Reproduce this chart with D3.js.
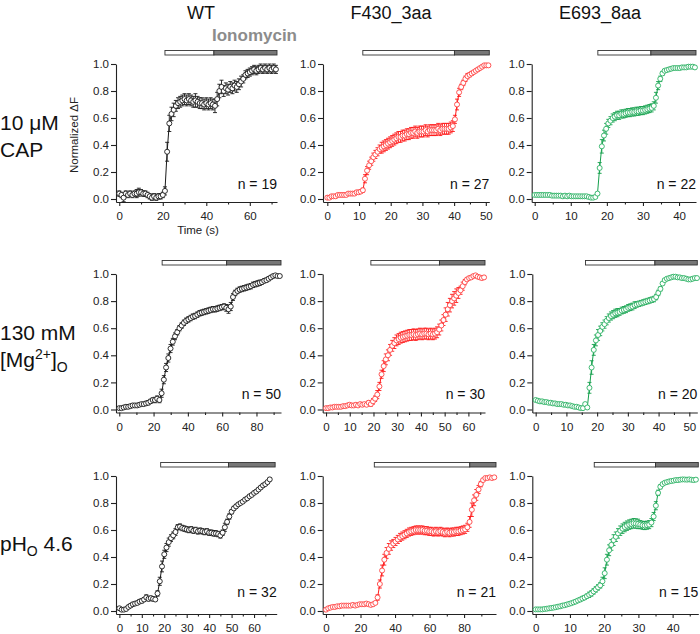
<!DOCTYPE html>
<html>
<head>
<meta charset="utf-8">
<script src="https://cdn.jsdelivr.net/npm/d3@7"></script>
<style>
  body { margin: 0; background: #fff; }
  svg text { font-family: "Liberation Sans", Arial, sans-serif; }
</style>
</head>
<body>
<svg id="chart" width="700" height="634"></svg>
<script>
// column / row headings
const columns = ['WT', 'F430_3aa', 'E693_8aa'];
const cellN = [19, 27, 22, 50, 30, 20, 32, 21, 15];
// sampling interval (s) of each trace
const sampleStep = [1, 0.66, 0.6, 1.3, 0.9, 0.7, 1, 1.3, 0.65];
// agonist bar: start, switch to ionomycin, end (s)
const ionoBars = [
  [21, 43.5, 72.5], [11.2, 40.1, 51.1], [17.5, 32.2, 44.7],
  [25, 62.6, 94.3], [18.9, 47.8, 67], [16.2, 38.8, 52.6],
  [18.4, 48.6, 69.4], [28, 83.3, 98.5], [17.1, 35, 47.5]
];
const xMajor = [
  [0, 20, 40, 60], [0, 10, 20, 30, 40, 50], [0, 10, 20, 30, 40],
  [0, 20, 40, 60, 80], [0, 10, 20, 30, 40, 50, 60], [0, 10, 20, 30, 40, 50],
  [0, 10, 20, 30, 40, 50, 60], [0, 20, 40, 60, 80], [0, 10, 20, 30, 40]
];
const xMinor = [
  [10, 30, 50, 70], [5, 15, 25, 35, 45], [5, 15, 25, 35],
  [10, 30, 50, 70, 90], [5, 15, 25, 35, 45, 55, 65], [5, 15, 25, 35, 45],
  [5, 15, 25, 35, 45, 55, 65], [10, 30, 50, 70, 90], [5, 15, 25, 35, 45]
];
const yTicks = [0, 0.2, 0.4, 0.6, 0.8, 1.0];

// ----- normalized dF means and SEM -----
// row 1: 10 uM CAP
const wtCap = [0.04,0.03,0.01,0.04,0.03,0.04,0.03,0.04,0.04,0.05,0.05,0.04,0.04,0.03,0.02,0.01,0.02,0.01,0.02,0.02,0.03,0.06,
  0.35,0.56,0.63,0.66,0.69,0.71,0.72,0.73,0.74,0.73,
  0.74,0.73,0.72,0.73,0.72,0.71,0.71,0.70,0.71,0.70,
  0.71,0.70,0.69,0.74,0.80,0.83,0.80,0.82,0.81,0.83,
  0.82,0.84,0.83,0.85,0.87,0.89,0.92,0.93,0.94,0.95,
  0.96,0.95,0.96,0.97,0.96,0.97,0.96,0.97,0.96,0.97,0.96];
const wtCapErr = [0.02,0.02,0.03,0.02,0.02,0.02,0.02,0.02,0.03,0.03,0.02,0.02,0.02,0.02,0.02,0.02,0.02,0.02,0.02,0.02,0.02,0.03,
  0.07,0.06,0.05,0.05,0.04,0.04,0.04,0.04,0.04,0.04,
  0.04,0.04,0.04,0.05,0.04,0.04,0.04,0.04,0.04,0.04,
  0.04,0.04,0.05,0.05,0.05,0.05,0.04,0.04,0.04,0.04,
  0.04,0.04,0.04,0.04,0.04,0.03,0.03,0.03,0.03,0.03,
  0.03,0.03,0.03,0.03,0.03,0.03,0.03,0.03,0.03,0.03,0.03];
const f430Cap = [0.01,0.01,0.02,0.02,0.02,0.03,0.03,0.03,0.03,0.03,0.04,0.04,0.04,0.04,0.05,0.05,0.055,0.065,
  0.15,0.21,0.25,0.28,0.31,0.33,0.35,0.37,0.38,0.39,0.40,0.41,0.42,0.43,0.44,0.45,0.46,0.46,0.47,0.47,0.48,0.48,0.49,0.49,
  0.50,0.49,0.50,0.50,0.50,0.51,0.50,0.51,0.51,0.51,0.51,0.52,0.51,0.52,0.52,0.52,0.52,0.53,0.54,
  0.59,0.70,0.79,0.83,0.86,0.89,0.91,0.92,0.93,0.94,0.95,0.96,0.97,0.98,0.99,0.99,0.99];
const f430CapErr = [0.01,0.01,0.01,0.01,0.01,0.01,0.01,0.01,0.01,0.01,0.01,0.01,0.01,0.01,0.01,0.01,0.01,0.015,
  0.03,0.03,0.03,0.03,0.03,0.03,0.03,0.03,0.04,0.04,0.04,0.04,0.04,0.04,0.04,0.04,0.04,0.04,0.04,0.04,0.04,0.04,0.04,0.04,
  0.04,0.04,0.04,0.04,0.04,0.04,0.04,0.04,0.04,0.04,0.04,0.04,0.04,0.04,0.04,0.04,0.04,0.04,0.04,
  0.03,0.04,0.03,0.02,0.02,0.02,0.02,0.015,0.015,0.01,0.01,0.01,0.01,0.01,0.01,0.01,0.01];
const e693Cap = [0.03,0.03,0.03,0.03,0.03,0.03,0.03,0.03,0.025,0.025,0.025,0.025,0.025,0.02,0.025,0.02,0.025,0.02,0.02,0.02,0.02,0.02,0.02,0.02,0.02,
  0.015,0.01,0.01,0.015,0.04,
  0.23,0.39,0.47,0.52,0.56,0.58,0.60,0.61,0.62,0.62,0.63,0.63,0.635,0.64,0.64,0.645,0.645,0.65,0.65,0.655,0.655,0.66,0.665,0.67,0.675,
  0.69,0.75,0.84,0.89,0.93,0.95,0.955,0.96,0.965,0.97,0.97,0.97,0.97,0.975,0.975,0.975,0.98,0.98,0.98,0.975];
const e693CapErr = [0.01,0.01,0.01,0.01,0.01,0.01,0.01,0.01,0.01,0.01,0.01,0.01,0.01,0.01,0.01,0.01,0.01,0.01,0.01,0.01,0.01,0.01,0.01,0.01,0.01,
  0.01,0.01,0.01,0.01,0.01,
  0.04,0.05,0.04,0.04,0.03,0.03,0.03,0.03,0.03,0.03,0.03,0.03,0.03,0.03,0.03,0.03,0.03,0.03,0.03,0.03,0.03,0.03,0.03,0.03,0.03,
  0.03,0.04,0.03,0.02,0.015,0.01,0.01,0.01,0.01,0.01,0.01,0.01,0.01,0.01,0.01,0.01,0.01,0.01,0.01,0.01];
// row 2: 130 mM [Mg2+]o
const wtMg = [0.01,0.01,0.015,0.02,0.02,0.025,0.03,0.03,0.03,0.035,0.04,0.04,0.045,0.05,0.06,0.07,0.07,0.08,0.07,
  0.12,0.22,0.31,0.38,0.45,0.50,0.54,0.57,0.60,0.62,0.64,0.655,0.665,0.675,0.685,0.69,0.70,0.71,0.715,0.72,0.725,0.73,0.735,0.74,0.74,0.745,0.75,0.755,
  0.76,0.75,0.74,0.76,0.83,0.86,0.875,0.885,0.89,0.895,0.90,0.905,0.91,0.92,0.925,0.93,0.935,0.94,0.95,0.955,0.965,0.975,0.985,0.99,0.985,0.985];
const wtMgErr = [0.01,0.01,0.01,0.01,0.01,0.01,0.01,0.01,0.01,0.01,0.01,0.01,0.015,0.015,0.015,0.015,0.02,0.02,0.02,
  0.03,0.03,0.03,0.03,0.03,0.025,0.025,0.02,0.02,0.02,0.02,0.02,0.02,0.02,0.02,0.02,0.02,0.02,0.02,0.02,0.02,0.02,0.02,0.02,0.02,0.02,0.02,0.02,
  0.02,0.025,0.03,0.03,0.025,0.02,0.02,0.02,0.02,0.02,0.02,0.02,0.02,0.02,0.02,0.02,0.02,0.015,0.015,0.015,0.015,0.01,0.01,0.01,0.01,0.01];
const f430Mg = [0.01,0.01,0.015,0.015,0.02,0.02,0.02,0.02,0.025,0.025,0.03,0.035,0.03,0.03,0.035,0.03,0.04,0.035,0.04,0.035,
  0.05,0.04,0.06,0.08,0.11,0.17,0.26,0.32,0.37,0.40,0.44,0.47,0.49,0.51,0.52,0.53,0.535,0.54,0.545,0.55,
  0.55,0.555,0.55,0.555,0.56,0.555,0.56,0.56,0.555,0.56,0.555,0.56,0.57,0.59,0.62,0.66,0.70,0.74,0.77,0.80,
  0.82,0.84,0.86,0.88,0.91,0.94,0.96,0.97,0.975,0.985,0.99,0.98,0.975,0.97,0.975];
const f430MgErr = [0.01,0.01,0.01,0.01,0.01,0.01,0.01,0.01,0.01,0.01,0.01,0.01,0.01,0.01,0.01,0.01,0.01,0.01,0.01,0.01,
  0.015,0.015,0.02,0.02,0.03,0.03,0.03,0.04,0.04,0.04,0.04,0.04,0.04,0.04,0.04,0.04,0.04,0.04,0.04,0.04,
  0.04,0.04,0.04,0.04,0.04,0.04,0.04,0.04,0.04,0.04,0.04,0.04,0.04,0.04,0.04,0.04,0.05,0.05,0.05,0.05,
  0.05,0.05,0.04,0.03,0.03,0.02,0.01,0.01,0.01,0.01,0.01,0.01,0.01,0.01,0.01];
const e693Mg = [0.07,0.065,0.06,0.06,0.055,0.055,0.05,0.05,0.045,0.045,0.04,0.04,0.04,0.035,0.035,0.03,0.03,0.025,0.02,0.02,0.015,0.01,0.01,0.04,0.015,
  0.16,0.31,0.44,0.51,0.55,0.58,0.61,0.63,0.655,0.675,0.69,0.70,0.71,0.715,0.72,0.73,0.735,0.74,0.75,0.755,0.76,0.77,0.775,0.78,0.785,0.79,0.795,0.80,0.805,0.81,0.815,
  0.83,0.86,0.89,0.93,0.955,0.965,0.97,0.975,0.98,0.98,0.975,0.975,0.97,0.97,0.965,0.96,0.96,0.965,0.97,0.97];
const e693MgErr = [0.01,0.01,0.01,0.01,0.01,0.01,0.01,0.01,0.01,0.01,0.01,0.01,0.01,0.01,0.01,0.01,0.01,0.01,0.01,0.01,0.01,0.01,0.01,0.01,0.01,
  0.04,0.05,0.04,0.04,0.04,0.035,0.03,0.03,0.03,0.03,0.03,0.03,0.03,0.03,0.025,0.025,0.025,0.025,0.025,0.025,0.025,0.025,0.02,0.02,0.02,0.02,0.02,0.02,0.02,0.02,0.02,
  0.02,0.02,0.015,0.01,0.01,0.01,0.01,0.01,0.01,0.01,0.01,0.01,0.01,0.01,0.01,0.01,0.01,0.01,0.01,0.01];
// row 3: pHo 4.6
const wtPh = [0.02,0.01,0.01,0.015,0.03,0.04,0.05,0.055,0.06,0.07,0.075,0.085,0.10,0.09,0.095,0.09,0.085,
  0.13,0.22,0.33,0.42,0.47,0.51,0.54,0.56,0.585,0.62,0.625,0.615,0.61,0.605,0.60,0.605,0.595,0.60,0.59,0.595,0.59,0.585,0.59,0.58,0.58,0.575,0.575,0.57,0.56,
  0.58,0.62,0.66,0.70,0.735,0.76,0.775,0.79,0.80,0.81,0.825,0.835,0.85,0.86,0.875,0.885,0.90,0.915,0.93,0.94,0.955,0.975];
const wtPhErr = [0.01,0.01,0.01,0.01,0.01,0.01,0.01,0.01,0.01,0.015,0.015,0.015,0.02,0.015,0.015,0.015,0.01,
  0.02,0.03,0.04,0.03,0.03,0.03,0.025,0.025,0.025,0.02,0.02,0.02,0.02,0.02,0.02,0.02,0.02,0.02,0.02,0.02,0.02,0.02,0.02,0.02,0.02,0.02,0.02,0.02,0.02,
  0.02,0.03,0.02,0.02,0.015,0.015,0.015,0.01,0.01,0.01,0.01,0.01,0.01,0.01,0.01,0.01,0.01,0.01,0.01,0.01,0.01,0.01];
const f430Ph = [0.01,0.02,0.025,0.03,0.03,0.035,0.035,0.04,0.04,0.04,0.04,0.04,0.045,0.04,0.045,0.05,0.05,0.05,0.055,0.05,0.045,0.05,0.06,
  0.10,0.20,0.30,0.38,0.43,0.46,0.485,0.50,0.515,0.53,0.545,0.555,0.565,0.575,0.585,0.59,0.595,0.60,0.60,0.60,0.60,0.595,0.595,0.59,0.59,0.585,0.59,0.585,0.59,0.585,0.58,0.585,0.58,0.585,0.585,0.59,0.59,0.595,0.60,0.605,
  0.62,0.66,0.75,0.82,0.86,0.90,0.94,0.97,0.985,0.985,0.99,0.985,0.99];
const f430PhErr = [0.01,0.01,0.01,0.01,0.01,0.01,0.01,0.01,0.01,0.01,0.01,0.01,0.01,0.01,0.01,0.01,0.01,0.01,0.01,0.01,0.01,0.01,0.01,
  0.02,0.03,0.04,0.04,0.04,0.04,0.035,0.03,0.03,0.03,0.03,0.03,0.03,0.03,0.03,0.03,0.03,0.03,0.03,0.03,0.03,0.03,0.03,0.03,0.03,0.03,0.03,0.03,0.03,0.03,0.03,0.03,0.03,0.03,0.03,0.03,0.03,0.03,0.03,0.03,
  0.03,0.04,0.05,0.04,0.04,0.03,0.02,0.01,0.01,0.01,0.01,0.01,0.01];
const e693Ph = [0.012,0.012,0.012,0.012,0.015,0.017,0.02,0.022,0.025,0.028,0.032,0.035,0.04,0.043,0.048,0.053,0.058,0.064,0.07,0.078,0.085,0.093,0.10,0.11,0.12,0.13,0.145,0.16,0.175,0.19,
  0.22,0.28,0.38,0.45,0.49,0.525,0.55,0.575,0.595,0.61,0.622,0.632,0.64,0.645,0.65,0.648,0.645,0.64,0.635,0.633,0.636,0.64,0.655,
  0.70,0.78,0.875,0.92,0.94,0.95,0.955,0.96,0.963,0.966,0.97,0.97,0.973,0.975,0.974,0.973,0.975,0.972,0.97,0.973];
const e693PhErr = [0.005,0.005,0.005,0.005,0.005,0.005,0.005,0.005,0.005,0.005,0.01,0.01,0.01,0.01,0.01,0.01,0.01,0.01,0.01,0.01,0.015,0.015,0.015,0.015,0.02,0.02,0.02,0.02,0.02,0.02,
  0.03,0.04,0.04,0.04,0.04,0.04,0.035,0.035,0.035,0.035,0.035,0.035,0.035,0.035,0.035,0.035,0.035,0.03,0.03,0.03,0.03,0.03,0.03,
  0.03,0.03,0.02,0.015,0.01,0.01,0.01,0.01,0.01,0.01,0.01,0.01,0.01,0.01,0.01,0.01,0.01,0.01,0.01,0.01];

const means = [wtCap, f430Cap, e693Cap, wtMg, f430Mg, e693Mg, wtPh, f430Ph, e693Ph];
const errs = [wtCapErr, f430CapErr, e693CapErr, wtMgErr, f430MgErr, e693MgErr, wtPhErr, f430PhErr, e693PhErr];

// ----- look -----
const lineCol = ['#1a1a1a', '#ff1a1a', '#15a04d'];
const dotCol = ['#1a1a1a', '#ff4444', '#2cb264'];
// pixel box of each panel: y-axis x, x-axis end, axis value range, y of 1.0 and 0.0
const boxes = [
  {left: 116, right: 277, xMin: -1.5, xMax: 72.5, top: 64, zero: 199, nOff: 10},
  {left: 323, right: 489.3, xMin: -1.36, xMax: 51.1, top: 64, zero: 199, nOff: 10},
  {left: 531.7, right: 696, xMin: -0.83, xMax: 44.7, top: 64, zero: 199, nOff: 10},
  {left: 116, right: 281, xMin: -1.9, xMax: 94.3, top: 274, zero: 409.5, nOff: 11},
  {left: 322.7, right: 485, xMin: -1.4, xMax: 67, top: 274, zero: 409.5, nOff: 11},
  {left: 532.3, right: 697.3, xMin: -1.1, xMax: 52.6, top: 274, zero: 409.5, nOff: 11},
  {left: 116, right: 276.7, xMin: -1.5, xMax: 70.1, top: 476, zero: 611, nOff: 14},
  {left: 322.7, right: 496, xMin: -1.9, xMax: 98.5, top: 476, zero: 611, nOff: 14},
  {left: 532.3, right: 698.3, xMin: -1.0, xMax: 47.5, top: 476, zero: 611, nOff: 14}
];

const svg = d3.select('#chart');

function init() {
  drawHeadings();
  boxes.forEach((b, k) => drawPanel(k));
}

function drawHeadings() {
  const centres = [201, 391, 600];
  columns.forEach((c, i) => {
    svg.append('text').attr('x', centres[i]).attr('y', 19)
      .attr('text-anchor', 'middle').attr('font-size', 18).attr('fill', '#111').text(c);
  });
  svg.append('text').attr('x', 212).attr('y', 41)
    .attr('font-size', 17).attr('font-weight', 'bold').attr('fill', '#8c8c8c').text('Ionomycin');

  const rl = svg.append('g').style('font-family', '"Open Sans", sans-serif').attr('font-size', 21).attr('fill', '#111');
  rl.append('text').attr('x', 0).attr('y', 130).text('10 μM');
  rl.append('text').attr('x', 0).attr('y', 157).text('CAP');
  rl.append('text').attr('x', 0).attr('y', 340).text('130 mM');
  const mg = rl.append('text').attr('x', 0).attr('y', 367);
  mg.append('tspan').text('[Mg');
  mg.append('tspan').attr('font-size', 14).attr('dy', -8).text('2+');
  mg.append('tspan').attr('dy', 8).text(']');
  mg.append('tspan').attr('font-size', 14).attr('dy', 5).text('O');
  const ph = rl.append('text').attr('x', 0).attr('y', 551);
  ph.append('tspan').text('pH');
  ph.append('tspan').attr('font-size', 14).attr('dy', 5).text('O');
  ph.append('tspan').attr('dy', -5).text(' 4.6');

  // axis titles on the first panel
  svg.append('text').attr('transform', 'translate(78,135) rotate(-90)')
    .attr('text-anchor', 'middle').attr('font-size', 11.5).attr('fill', '#222').text('Normalized ΔF');
  svg.append('text').attr('x', 198).attr('y', 234)
    .attr('text-anchor', 'middle').attr('font-size', 11.5).attr('fill', '#222').text('Time (s)');
}

function drawPanel(k) {
  const b = boxes[k];
  const col = k % 3;
  const step = sampleStep[k];
  const pts = means[k].map((v, i) => ({t: i * step, v: v, e: errs[k][i]}));

  const x = d3.scaleLinear().domain([b.xMin, b.xMax]).range([b.left, b.right]);
  const y = d3.scaleLinear().domain([0, 1]).range([b.zero, b.top]);
  const yAx = y.copy().domain([y.invert(b.zero + 3), 1]).range([b.zero + 3, b.top]);

  const g = svg.append('g');

  // axes
  const ya = g.append('g').attr('transform', `translate(${b.left},0)`)
    .call(d3.axisLeft(yAx).tickValues(yTicks).tickFormat(d3.format('.1f'))
      .tickSize(5).tickSizeOuter(0).tickPadding(2));
  const xa = g.append('g').attr('transform', `translate(0,${b.zero + 3})`)
    .call(d3.axisBottom(x).tickValues(xMajor[k]).tickFormat(d3.format('d'))
      .tickSize(4).tickSizeOuter(0).tickPadding(6));
  const xm = g.append('g').attr('transform', `translate(0,${b.zero + 3})`)
    .call(d3.axisBottom(x).tickValues(xMinor[k]).tickFormat('').tickSize(2.5).tickSizeOuter(0));
  xm.select('.domain').remove();
  [ya, xa, xm].forEach(a => {
    a.attr('font-size', 11.5).attr('font-family', null);
    a.selectAll('path, line').attr('stroke', '#222').attr('stroke-width', 1.1);
    a.selectAll('text').attr('fill', '#222');
  });

  // ionomycin bar
  const bar = ionoBars[k];
  g.append('rect').attr('x', x(bar[0])).attr('y', b.top - 13.5)
    .attr('width', x(bar[1]) - x(bar[0])).attr('height', 4.5)
    .attr('fill', '#fff').attr('stroke', '#333').attr('stroke-width', 0.9);
  g.append('rect').attr('x', x(bar[1])).attr('y', b.top - 13.5)
    .attr('width', x(bar[2]) - x(bar[1])).attr('height', 4.5)
    .attr('fill', '#777').attr('stroke', '#333').attr('stroke-width', 0.9);

  // trace
  g.append('path').datum(pts)
    .attr('d', d3.line().x(d => x(d.t)).y(d => y(d.v)))
    .attr('fill', 'none').attr('stroke', lineCol[col]).attr('stroke-width', 1);

  const eb = g.append('g').attr('stroke', lineCol[col]).attr('stroke-width', 0.9);
  eb.selectAll('line.v').data(pts).enter().append('line')
    .attr('x1', d => x(d.t)).attr('x2', d => x(d.t))
    .attr('y1', d => y(d.v - d.e)).attr('y2', d => y(d.v + d.e));
  eb.selectAll('line.cu').data(pts).enter().append('line')
    .attr('x1', d => x(d.t) - 2).attr('x2', d => x(d.t) + 2)
    .attr('y1', d => y(d.v + d.e)).attr('y2', d => y(d.v + d.e));
  eb.selectAll('line.cl').data(pts).enter().append('line')
    .attr('x1', d => x(d.t) - 2).attr('x2', d => x(d.t) + 2)
    .attr('y1', d => y(d.v - d.e)).attr('y2', d => y(d.v - d.e));

  g.append('g').selectAll('circle').data(pts).enter().append('circle')
    .attr('cx', d => x(d.t)).attr('cy', d => y(d.v)).attr('r', 2.5)
    .attr('fill', '#fff').attr('stroke', dotCol[col]).attr('stroke-width', 0.9);

  // n label
  g.append('text').attr('x', b.right).attr('y', b.zero - b.nOff)
    .attr('text-anchor', 'end').attr('font-size', 14).attr('fill', '#111')
    .text(`n = ${cellN[k]}`);
}

init();
</script>
</body>
</html>
